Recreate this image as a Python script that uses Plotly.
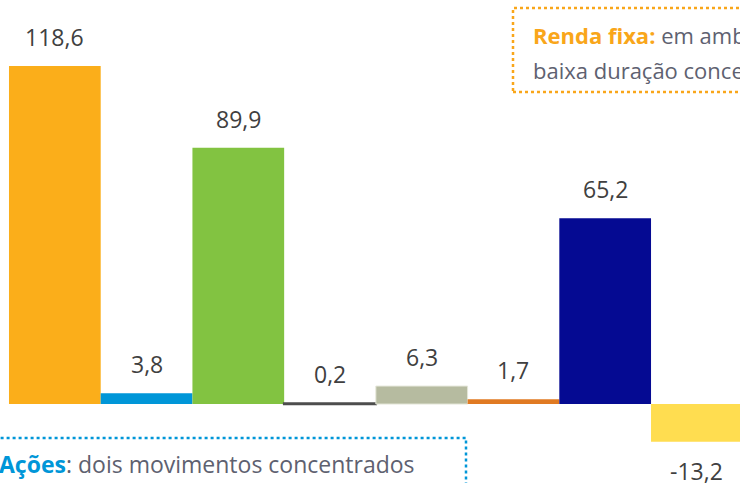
import plotly.graph_objects as go

categories = ["Renda Fixa", "Cambial", "Multimercados", "Outros", "Previdência", "ETF", "FIDC", "Ações"]
values = [118.6, 3.8, 89.9, 0.2, 6.3, 1.7, 65.2, -13.2]
value_labels = ["118,6", "3,8", "89,9", "0,2", "6,3", "1,7", "65,2", "-13,2"]
colors = ["#FBAE1A", "#0096D8", "#82C341", "#4D4D4D", "#B6BBA0", "#E07A22", "#050A92", "#FFDD50"]
line_colors = ["#FBAE1A", "#0096D8", "#82C341", "#4D4D4D", "#E4E6D8", "#E07A22", "#050A92", "#FFDD50"]
line_widths = [0, 0, 0, 2.5, 1, 0, 0, 0]

fig = go.Figure()
fig.add_trace(go.Bar(
    x=categories, y=values,
    marker=dict(color=colors, line=dict(color=line_colors, width=line_widths)),
    hoverinfo="skip",
))

W, H = 740, 483
annotations = []
for c, v, t in zip(categories, values, value_labels):
    annotations.append(dict(
        x=c, y=v, xref="x", yref="y", text=t, showarrow=False,
        yanchor="bottom" if v >= 0 else "top",
        yshift=11 if v >= 0 else -11,
        font=dict(family="Open Sans", size=23, color="#404040"),
    ))

gray = "#5E6170"
orange = "#F9A61A"
blue = "#0096D8"
annotations += [
    dict(xref="paper", yref="paper", x=531 / W, y=1 - 35 / H, xanchor="left", yanchor="middle",
         text=f"<b><span style='color:{orange}'>Renda fixa:</span></b> em ambiente de juros altos, fundos de",
         showarrow=False, font=dict(family="Open Sans", size=22, color=gray)),
    dict(xref="paper", yref="paper", x=531 / W, y=1 - 70 / H, xanchor="left", yanchor="middle",
         text="baixa duração concentraram a captação",
         showarrow=False, font=dict(family="Open Sans", size=22, color=gray)),
    dict(xref="paper", yref="paper", x=-3 / W, y=1 - 464 / H, xanchor="left", yanchor="middle",
         text=f"<b><span style='color:{blue}'>Ações</span></b>: dois movimentos concentrados",
         showarrow=False, font=dict(family="Open Sans", size=23, color=gray)),
]

shapes = [
    dict(type="rect", xref="paper", yref="paper", x0=513 / W, x1=1.3, y0=1 - 92 / H, y1=1 - 8 / H,
         line=dict(color=orange, width=2.5, dash="dot"), fillcolor="rgba(0,0,0,0)"),
    dict(type="rect", xref="paper", yref="paper", x0=-0.2, x1=466 / W, y0=-0.2, y1=1 - 438 / H,
         line=dict(color=blue, width=2.5, dash="dot"), fillcolor="rgba(0,0,0,0)"),
]

fig.update_layout(
    width=W, height=H,
    margin=dict(l=0, r=0, t=0, b=0),
    paper_bgcolor="white", plot_bgcolor="white",
    bargap=0,
    showlegend=False,
    hovermode=False,
    xaxis=dict(range=[-0.598, 7.47], visible=False, fixedrange=True),
    yaxis=dict(range=[-27.7, 141.75], visible=False, fixedrange=True),
    annotations=annotations,
    shapes=shapes,
)

fig.write_html(
    "out.html",
    config={"displayModeBar": False, "staticPlot": True},
    post_script="document.body.style.margin='0';document.body.style.overflow='hidden';",
)
